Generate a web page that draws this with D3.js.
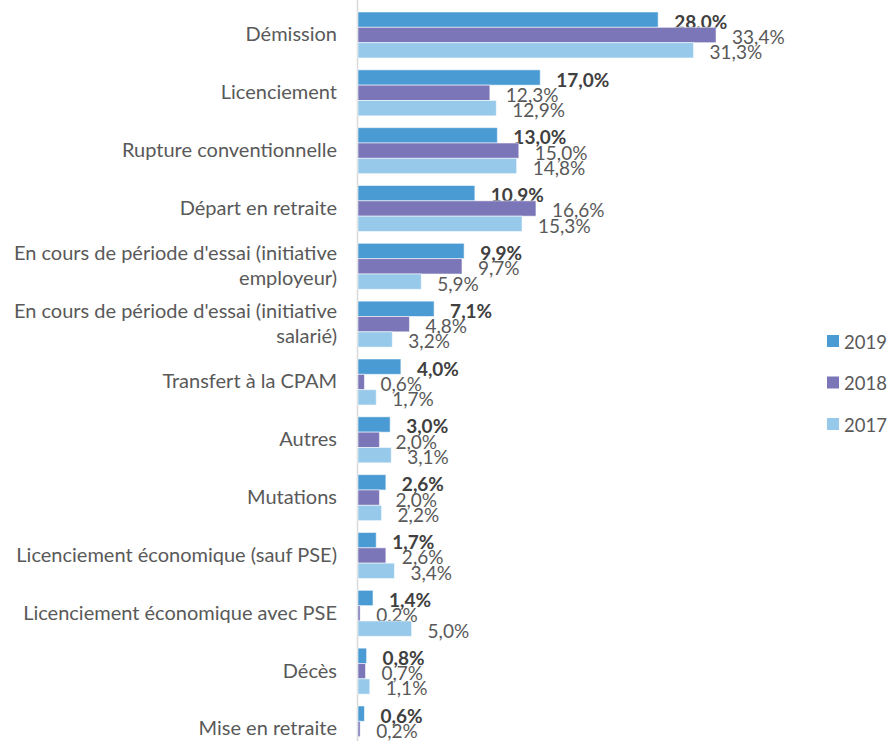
<!DOCTYPE html>
<html>
<head>
<meta charset="utf-8">
<script src="https://cdn.jsdelivr.net/npm/d3@7/dist/d3.min.js"></script>
<style>
  html, body { margin: 0; padding: 0; background: #ffffff; }
  svg { display: block; }
</style>
</head>
<body>
<svg id="chart" width="889" height="741"></svg>
<script>
// Motifs de sortie des salariés, en % des départs
const categories = [
  ["Démission"],
  ["Licenciement"],
  ["Rupture conventionnelle"],
  ["Départ en retraite"],
  ["En cours de période d'essai (initiative", "employeur)"],
  ["En cours de période d'essai (initiative", "salarié)"],
  ["Transfert à la CPAM"],
  ["Autres"],
  ["Mutations"],
  ["Licenciement économique (sauf PSE)"],
  ["Licenciement économique avec PSE"],
  ["Décès"],
  ["Mise en retraite"]
];
const years = ["2019", "2018", "2017"];
const values2019 = [28.0, 17.0, 13.0, 10.9, 9.9, 7.1, 4.0, 3.0, 2.6, 1.7, 1.4, 0.8, 0.6];
const values2018 = [33.4, 12.3, 15.0, 16.6, 9.7, 4.8, 0.6, 2.0, 2.0, 2.6, 0.2, 0.7, 0.2];
const values2017 = [31.3, 12.9, 14.8, 15.3, 5.9, 3.2, 1.7, 3.1, 2.2, 3.4, 5.0, 1.1, null];
const colors = { "2019": "#4a9bd3", "2018": "#7b76b7", "2017": "#96c9ea" };

const seriesByYear = { "2019": values2019, "2018": values2018, "2017": values2017 };
const catKeys = categories.map(c => c.join(" "));

const svg = d3.select("#chart");
const FONT = "Lato, 'Open Sans', sans-serif";
const FS_CAT = 20;
const FS_VAL = 19;
const FS_LEG = 18.5;

const x = d3.scaleLinear().domain([0, 35]).range([358, 733.2]);
const y = d3.scaleBand().domain(catKeys).range([6.08, 757.9])
  .paddingInner(0.2046).paddingOuter(0.1023);
const ySub = d3.scaleBand().domain(years).range([0, y.bandwidth()]);

// Vertical category axis line
svg.append("line")
  .attr("x1", x(0) - 0.5).attr("x2", x(0) - 0.5)
  .attr("y1", 0).attr("y2", 741)
  .attr("stroke", "#d9d9d9").attr("stroke-width", 1.5);

// Bars
const groups = svg.append("g").selectAll("g")
  .data(catKeys)
  .join("g")
  .attr("transform", k => `translate(0,${y(k)})`);

groups.each(function(k, i) {
  const g = d3.select(this);
  years.forEach(yr => {
    const v = seriesByYear[yr][i];
    if (v == null) return;
    g.append("rect")
      .attr("x", x(0))
      .attr("y", ySub(yr))
      .attr("width", x(v) - x(0))
      .attr("height", ySub.bandwidth())
      .attr("fill", colors[yr])
      .attr("stroke", "rgba(255,255,255,0.55)")
      .attr("stroke-width", 1);
    g.append("text")
      .attr("x", x(v) + 16)
      .attr("y", ySub(yr) + ySub.bandwidth() / 2 + 1.5)
      .attr("dominant-baseline", "central")
      .attr("font-family", FONT)
      .attr("font-size", FS_VAL)
      .attr("font-weight", yr === "2019" ? "bold" : "normal")
      .attr("fill", yr === "2019" ? "#404040" : "#595959")
      .text(d3.format(".1f")(v).replace(".", ",") + "%");
  });
});

// Category labels
const catLabels = svg.append("g").selectAll("text")
  .data(categories)
  .join("text")
  .attr("text-anchor", "end")
  .attr("font-family", FONT)
  .attr("font-size", FS_CAT)
  .attr("fill", "#595959")
  .attr("transform", (c, i) => `translate(337,${y(catKeys[i]) + y.bandwidth() / 2 - 1.5})`);

catLabels.each(function(lines) {
  const t = d3.select(this);
  const lh = 25;
  const off = -(lines.length - 1) * lh / 2;
  lines.forEach((ln, j) => {
    t.append("tspan")
      .attr("x", 0)
      .attr("y", off + j * lh)
      .attr("dominant-baseline", "central")
      .text(ln);
  });
});

// Legend
const legend = svg.append("g").selectAll("g")
  .data(years)
  .join("g")
  .attr("transform", (d, i) => `translate(827,${341 + i * 41.5})`);
legend.append("rect")
  .attr("x", 0).attr("y", -6)
  .attr("width", 12).attr("height", 12)
  .attr("fill", d => colors[d]);
legend.append("text")
  .attr("x", 17).attr("y", 0.5)
  .attr("dominant-baseline", "central")
  .attr("font-family", FONT)
  .attr("font-size", FS_LEG)
  .attr("fill", "#595959")
  .text(d => d);
</script>
</body>
</html>
